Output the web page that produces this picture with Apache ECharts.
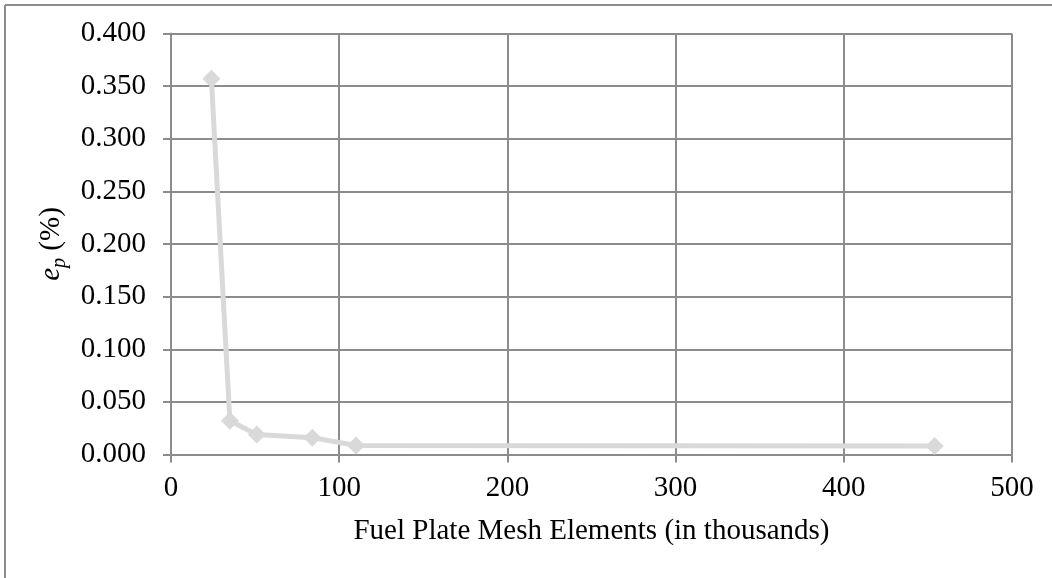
<!DOCTYPE html>
<html>
<head>
<meta charset="utf-8">
<script src="https://cdn.jsdelivr.net/npm/echarts@6/dist/echarts.min.js"></script>
<style>
html,body{margin:0;padding:0;background:#fff;}
#c{width:1052px;height:578px;}
</style>
</head>
<body>
<div id="c"></div>
<script>
const meshElements = [24, 35, 51, 84, 110, 454];
const errorPct = [0.357, 0.032, 0.019, 0.016, 0.0085, 0.008];
const xTicks = [0, 100, 200, 300, 400, 500];
const yTicks = ['0.000','0.050','0.100','0.150','0.200','0.250','0.300','0.350','0.400'];

const FONT = '"Liberation Serif", "Times New Roman", serif';
const FS = 29;
const chart = echarts.init(document.getElementById('c'), null, {renderer: 'canvas'});
const gridColor = '#8c8c8c';
chart.setOption({
  backgroundColor: '#fff',
  animation: false,
  graphic: [
    {type: 'line', shape: {x1: 5, y1: 5, x2: 1052, y2: 5}, style: {stroke: '#8c8c8c', lineWidth: 2}},
    {type: 'line', shape: {x1: 5, y1: 5, x2: 5, y2: 578}, style: {stroke: '#8c8c8c', lineWidth: 2}}
  ],
  grid: {left: 171, right: 40, top: 33.5, bottom: 123.5, containLabel: false},
  xAxis: {
    type: 'value', min: xTicks[0], max: xTicks[xTicks.length - 1], interval: 100,
    name: 'Fuel Plate Mesh Elements (in thousands)',
    nameLocation: 'middle', nameGap: 62,
    nameTextStyle: {fontFamily: FONT, fontSize: FS, color: '#000', verticalAlign: 'top'},
    axisLine: {show: true, lineStyle: {color: gridColor, width: 2}},
    axisTick: {show: true, inside: false, length: 8, lineStyle: {color: gridColor, width: 2}},
    axisLabel: {fontFamily: FONT, fontSize: FS, color: '#000', margin: 19},
    splitLine: {show: true, lineStyle: {color: gridColor, width: 2}}
  },
  yAxis: {
    type: 'value', min: 0, max: 0.4, interval: 0.05,
    name: '{i|e}{s|p}{n| (%)}',
    nameLocation: 'middle', nameGap: 98, nameRotate: 90,
    nameTextStyle: {
      fontFamily: FONT, fontSize: FS, color: '#000',
      rich: {
        i: {fontFamily: FONT, fontSize: FS, fontStyle: 'italic', color: '#000'},
        s: {fontFamily: FONT, fontSize: 20, fontStyle: 'italic', color: '#000', padding: [16, 0, 0, 0]},
        n: {fontFamily: FONT, fontSize: FS, color: '#000'}
      }
    },
    axisLine: {show: true, lineStyle: {color: gridColor, width: 2}},
    axisTick: {show: true, inside: false, length: 8, lineStyle: {color: gridColor, width: 2}},
    axisLabel: {
      fontFamily: FONT, fontSize: FS, color: '#000', margin: 25,
      formatter: function (v) { return yTicks[Math.round(v / 0.05)]; }
    },
    splitLine: {show: true, lineStyle: {color: gridColor, width: 2}}
  },
  series: [{
    type: 'line',
    data: meshElements.map((x, i) => [x, errorPct[i]]),
    lineStyle: {color: '#d9d9d9', width: 5},
    itemStyle: {color: '#d9d9d9'},
    symbol: 'diamond', symbolSize: 18, showSymbol: true
  }]
});
</script>
</body>
</html>
